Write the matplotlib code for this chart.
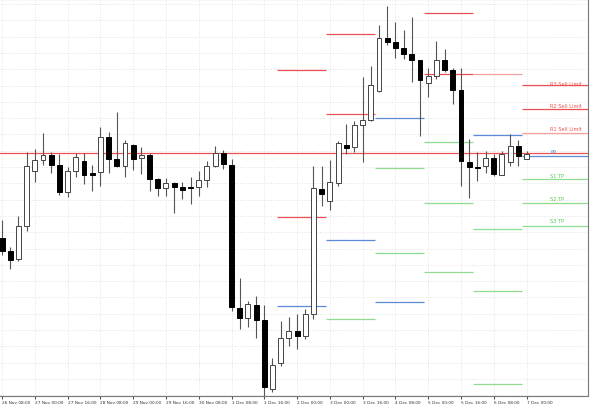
import matplotlib.pyplot as plt
import numpy as np

# candle values (screen units, larger = lower)
opens  = [239,252,260,227,172,161,156,166,193,172,162,174,173,138,160,167,146,159,156,180,189,184,188,188,188,181,167,154,166,
          309,319,306,321,390,364,339,332,337,315,190,202,184,146,148,126,121,92,39,43,49,55,61,84,77,61,71,91,163,168,
          167,159,176,163,147,160]
closes = [252,261,227,167,161,156,166,193,172,158,176,176,138,160,167,144,160,156,180,189,184,188,191,189,181,167,154,165,308,
          319,305,321,388,366,339,332,337,315,189,195,183,144,149,126,121,86,39,43,49,55,61,81,77,61,71,91,162,168,168,
          159,175,155,147,157,155]
highs  = [221,248,217,153,150,134,153,155,168,154,154,166,128,133,113,141,145,148,154,179,179,183,183,178,172,162,147,151,160,
          279,302,297,306,359,322,318,315,310,167,167,161,142,125,122,78,67,26,7,23,31,18,61,69,42,50,69,69,140,153,
          152,155,152,135,141,152]
lows   = [256,270,262,232,183,166,174,196,198,178,185,192,187,174,168,178,171,175,192,197,197,214,200,205,197,188,168,170,312,
          330,328,339,397,393,367,347,350,340,320,207,211,187,155,153,163,122,93,46,59,60,83,137,98,80,73,105,187,199,182,
          174,177,176,167,167,160]

# pivot segments: (start candle, end candle, level, colour key)
segments = [
    (34, 40, 71, 'red'), (34, 40, 218, 'red'), (34, 40, 307, 'blue'),
    (40, 46, 35, 'red'), (40, 46, 115, 'red'), (40, 46, 241, 'blue'), (40, 46, 320, 'green'),
    (46, 52, 119, 'blue'), (46, 52, 169, 'green'), (46, 52, 254, 'green'), (46, 52, 303, 'blue'),
    (52, 58, 14, 'red'), (52, 58, 75, 'red'), (52, 58, 143, 'green'), (52, 58, 204, 'green'), (52, 58, 273, 'green'),
    (58, 64, 75, 'pink'), (58, 64, 136, 'blue'), (58, 64, 230, 'green'), (58, 64, 292, 'green'), (58, 64, 385, 'green'),
    (64, 72, 86, 'red'), (64, 72, 110, 'red'), (64, 72, 134, 'pink'), (64, 72, 157, 'blue'),
    (64, 72, 180, 'green'), (64, 72, 204, 'green'), (64, 72, 227, 'green'),
]
right_labels = ['R3 Sell Limit', 'R2 Sell Limit', 'R1 Sell Limit', 'PP', 'S1 TP', 'S2 TP', 'S3 TP']
label_levels = [84, 107, 130, 153, 177, 200, 222]
label_colors = ['red', 'red', 'red', 'blue', 'green', 'green', 'green']
main_level = 154

tick_labels = ['26 Nov 08:00', '27 Nov 00:00', '27 Nov 16:00', '28 Nov 08:00', '29 Nov 00:00',
               '29 Nov 16:00', '30 Nov 08:00', '1 Dec 08:00', '1 Dec 16:00', '2 Dec 00:00',
               '3 Dec 00:00', '3 Dec 16:00', '4 Dec 08:00', '5 Dec 00:00', '5 Dec 16:00',
               '6 Dec 08:00', '7 Dec 00:00']

cols = {'red': '#ee5050', 'pink': '#f4a0a0', 'blue': '#5a8ad8', 'green': '#8fdc8f'}

fig = plt.figure(figsize=(5.9, 4.1), dpi=100)
ax = fig.add_axes([0, 13 / 410, 588 / 590, 397 / 410])
ax.set_axisbelow(True)

n = len(opens)
x = np.arange(n)
for i in range(n):
    o, c, h, l = opens[i], closes[i], highs[i], lows[i]
    ax.vlines(x[i], min(h, l), max(h, l), color='#555555', lw=0.8, zorder=4)
    bull = c < o
    top, bot = min(o, c), max(o, c)
    ax.add_patch(plt.Rectangle((x[i] - 0.3, top), 0.6, max(bot - top, 0.8),
                               facecolor='white' if bull else 'black',
                               edgecolor='#444444' if bull else 'black', lw=0.7, zorder=5))

ax.axhline(main_level, color=cols['red'], lw=0.9, zorder=3)
for s, e, lev, c in segments:
    ax.hlines(lev, s - 0.5, e - 0.5, color=cols[c], lw=0.9, zorder=3)
for t, lev, c in zip(right_labels, label_levels, label_colors):
    ax.text(66.9, lev, t, fontsize=3.6, color=cols[c] if c != 'green' else '#55c855',
            va='center', ha='left', zorder=6)

ax.set_xlim(-0.25, 71.5)
ax.set_ylim(397, 0)
ticks = np.arange(len(tick_labels)) * 4
ax.set_xticks(ticks)
ax.set_xticklabels(tick_labels, fontsize=3.1, ha='left', color='#333333')
ax.tick_params(axis='x', length=2, pad=1, color='#555555')
ax.set_yticks(np.arange(5, 397, 16.3))
ax.tick_params(axis='y', left=False, labelleft=False)
ax.grid(True, color='#e2e2e2', ls=':', lw=0.7, zorder=0)
ax.spines['left'].set_visible(False)
for sp in ['top', 'bottom', 'right']:
    ax.spines[sp].set_color('#777777')
    ax.spines[sp].set_linewidth(0.8)

fig.savefig('out.png', dpi=100)
